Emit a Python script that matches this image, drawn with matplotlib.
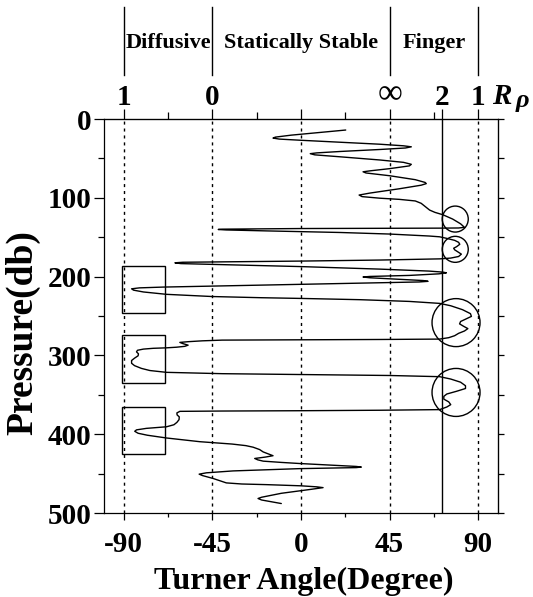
import numpy as np
import matplotlib
matplotlib.use("Agg")
import matplotlib.pyplot as plt
from matplotlib.patches import Rectangle, Ellipse

# ---------------- data ----------------
turner_deg = [
    22.7, 10, -5, -13, -14.2, -11, 0, 20, 40, 52, 56, 53, 40, 20, 8, 4.7, 7, 20, 40, 52, 56, 55,
    45, 35, 31.5, 33, 45, 58, 63, 63.6, 61, 50, 35, 29.5, 31, 40, 50, 58, 61, 63, 65.3, 68, 72,
    77, 81, 83, 80, 70.4,
    0, -30, -40, -42, -38, -17.6, 19.7, 45, 65, 70.4, 74, 78, 80, 80.6, 79, 77.5, 78, 79.5, 81.4,
    80, 76, 70.4, 40, 0, -40, -60, -64, -61, -40, 0, 40, 65, 72, 73.8, 70, 55, 35, 31.5, 35, 50,
    62, 64.5, 60, 40, 0, -40, -70, -82, -86, -85, -80, -68.3, -45, -20, 0, 30, 55, 70.4,
    76, 82, 86, 86.5, 84, 81, 80.5, 82.5, 84.7, 83, 80, 78, 75, 70.4, 40, 0, -40, -50, -57.3,
    -61.5, -60, -57.3, -59, -63.2, -68.3, -75, -80, -83, -83.5, -82.5, -82.7, -84.5, -86, -86,
    -84.5, -81, -76.7, -68.3, -40, -0.7, 45, 70.4, 76, 81, 83.5, 83.5, 79, 74, 72.5, 72.5, 75,
    76, 74, 70.4, 40, 0, -40, -61.5, -63, -62.9, -61.8, -61.9, -63, -64.5, -68.3, -78.5, -83.5,
    -84.4, -82.7, -78, -68.3, -51.4, -35, -28, -24.3, -21, -19.2, -16, -14.2, -18, -23.5, -22,
    -19.2, -10, -0.7, 15, 28, 30.6, 28, -0.7, -34.5, -48, -51.7, -50, -44.6, -40, -37.9, -30,
    -17.6, 0, 8, 11.2, 5, -10, -20, -21.8, -20, -15, -10]
pressure_db = [
    14, 17, 20.5, 23, 24.2, 25.5, 27, 29.5, 32, 34, 35.3, 36.8, 38.7, 41.2, 43, 44, 45.5, 48, 52,
    55, 57.5, 59.5, 63, 65.8, 67, 68.5, 72, 77, 80.5, 82, 84, 88.5, 94, 96.5, 98.5, 100.5, 102,
    104, 107, 111, 115.6, 118.5, 121.5, 127, 133, 137.5, 138.3, 138.5,
    139, 139.5, 139.8, 140.2, 140.8, 142, 144, 146, 148.5, 149.5, 151.5, 154, 156.5, 159, 162,
    164, 166, 168.5, 171.5, 174.5, 176.5, 177.5, 179, 180.3, 181.3, 181.8, 182.5, 183.5, 184.8,
    187.3, 190.5, 193, 194.3, 195.2, 196.5, 198.5, 199.8, 200.5, 201.5, 203.5, 205, 206, 206.8,
    207.8, 209.8, 211.8, 213.3, 214.3, 215.5, 217.2, 219.5, 222.5, 225.3, 226.8, 227.7, 229.3,
    231.5, 234, 237, 242, 247, 250.5, 253.5, 257, 260, 263, 266, 269, 272, 275, 277.5, 279.3,
    279.8, 280.2, 280.6, 281.5, 282.6, 283.5, 285, 287, 288.5, 289.6, 290.4, 291, 292, 293.5,
    295.5, 298, 300.5, 303.5, 306.5, 310, 313, 316.5, 319.2, 321.5, 323.2, 324.3, 325.5, 327,
    330, 334, 338.5, 342, 345.5, 349, 352, 355.5, 359, 362.5, 365.5, 368.8, 369.6, 370.2, 370.6,
    371, 373, 375.5, 378, 381.5, 385, 388, 390.6, 392.6, 394.5, 396.3, 398.8, 401.3, 404.8,
    409.5, 412.5, 414.5, 416.5, 419.5, 422.5, 425.5, 427.3, 429, 430.8, 432.5, 434.2, 435.8,
    437.2, 439.3, 440.9, 441.7, 442.4, 443.7, 446.6, 449, 450.7, 452.5, 456.2, 460, 461.8,
    463.2, 464, 465.5, 466.8, 467.8, 470, 475, 480, 481.6, 483.5, 485.8, 488]

bottom_ticks = [-90, -45, 0, 45, 90]
bottom_minor = [-67.5, -22.5, 22.5, 67.5]
rrho_ticks = [-90, -45, 0, 45, 71.57, 90]
rrho_labels = ["1", "0", "", "\u221e", "2", "1"]
regime_edges = [-90, -45, 45, 90]
regime_names = ["Diffusive", "Statically Stable", "Finger"]
regime_centers = [-67.5, 0, 67.5]
pressure_ticks = [0, 100, 200, 300, 400, 500]

# highlighted layers: diffusive boxes (p_top, p_bottom) and finger circles (Tu, p, radius px)
box_layers = [(186.7, 246), (274.3, 334.4), (365.4, 425.5)]
circle_layers = [(78.3, 127, 13), (78.3, 165.4, 13), (78.7, 258.4, 24), (78.7, 347, 24)]

# ---------------- figure ----------------
plt.rcParams['font.family'] = ['Liberation Serif', 'DejaVu Serif']
plt.rcParams['font.weight'] = 'bold'
plt.rcParams['axes.unicode_minus'] = False

W, H = 533, 597
fig = plt.figure(figsize=(W / 100, H / 100), dpi=100)
L, R, T, B = 104, 498, 119, 513
ax = fig.add_axes([L / W, 1 - B / H, (R - L) / W, (B - T) / H])

ax.set_xlim(-100, 100)
ax.set_ylim(500, 0)

for s in ax.spines.values():
    s.set_linewidth(0.9)

# reference lines
for x in bottom_ticks:
    ax.axvline(x, color='black', lw=1.0, ls=(0, (2.2, 2.8)), zorder=1)
ax.axvline(rrho_ticks[4], color='black', lw=1.0, zorder=1)

ax.plot(turner_deg, pressure_db, color='black', lw=1.0, zorder=3,
        solid_joinstyle='round', solid_capstyle='round')

for (p0, p1) in box_layers:
    ax.add_patch(Rectangle((-91, p0), 22, p1 - p0, fill=False, ec='black', lw=1.0, zorder=2))

sx = (R - L) / 200.0   # px per degree
sy = (B - T) / 500.0   # px per db
for (cx, cy, r) in circle_layers:
    ax.add_patch(Ellipse((cx, cy), 2 * r / sx, 2 * r / sy, fill=False, ec='black', lw=1.0, zorder=2))

# bottom axis
ax.set_xticks(bottom_ticks)
ax.set_xticks(bottom_minor, minor=True)
ax.tick_params(axis='x', which='major', direction='out', length=5, width=0.9, pad=8, labelsize=21)
ax.tick_params(axis='x', which='minor', direction='out', length=3, width=0.9)

# left axis
ax.set_yticks(pressure_ticks)
ax.set_yticks([50, 150, 250, 350, 450], minor=True)
ax.tick_params(axis='y', which='major', direction='out', length=7.5, width=0.9, pad=1.5, labelsize=21)
ax.tick_params(axis='y', which='minor', direction='out', length=4.5, width=0.9)

# right axis ticks
secy = ax.secondary_yaxis('right')
secy.set_yticks(np.arange(0, 501, 50))
secy.set_yticklabels([])
secy.tick_params(direction='out', length=4.5, width=0.9)

# top R_rho axis
secx = ax.secondary_xaxis('top')
secx.set_xticks(rrho_ticks, labels=rrho_labels)
secx.set_xticks(bottom_minor, minor=True)
secx.tick_params(axis='x', which='major', direction='out', length=7.5, width=0.9, pad=-2, labelsize=21)
secx.tick_params(axis='x', which='minor', direction='out', length=5, width=0.9)
for lab in secx.get_xticklabels():
    if lab.get_text() == "\u221e":
        lab.set_fontweight('normal')
        lab.set_fontsize(25)

ax.set_xlabel("Turner Angle(Degree)", fontsize=23, fontweight='bold')
ax.xaxis.set_label_coords(0.508, (B - 589) / (B - T))
ax.xaxis.label.set_va('baseline')
ax.set_ylabel("Pressure(db)", fontsize=27, fontweight='bold', va='center', ha='center')
ax.yaxis.set_label_coords((23 - L) / (R - L), (B - 333) / (B - T))

# regime dividers and names above the plot
xt = ax.get_xaxis_transform()
for x in regime_edges:
    ax.plot([x, x], [(B - 75) / (B - T), (B - 7) / (B - T)], color='black', lw=1.0,
            transform=xt, clip_on=False)
for name, xc in zip(regime_names, regime_centers):
    ax.text(xc, (B - 43) / (B - T), name, transform=xt, ha='center', va='center',
            fontsize=16, fontweight='bold')

fig.text(501.5 / W, 1 - 96 / H, "R", fontsize=21, fontweight='bold', fontstyle='italic',
         ha='center', va='center')
fig.text(522 / W, 1 - 101 / H, "\u03c1", fontsize=19, fontweight='bold', fontstyle='italic',
         ha='center', va='center')

fig.savefig("out.png", dpi=100)
